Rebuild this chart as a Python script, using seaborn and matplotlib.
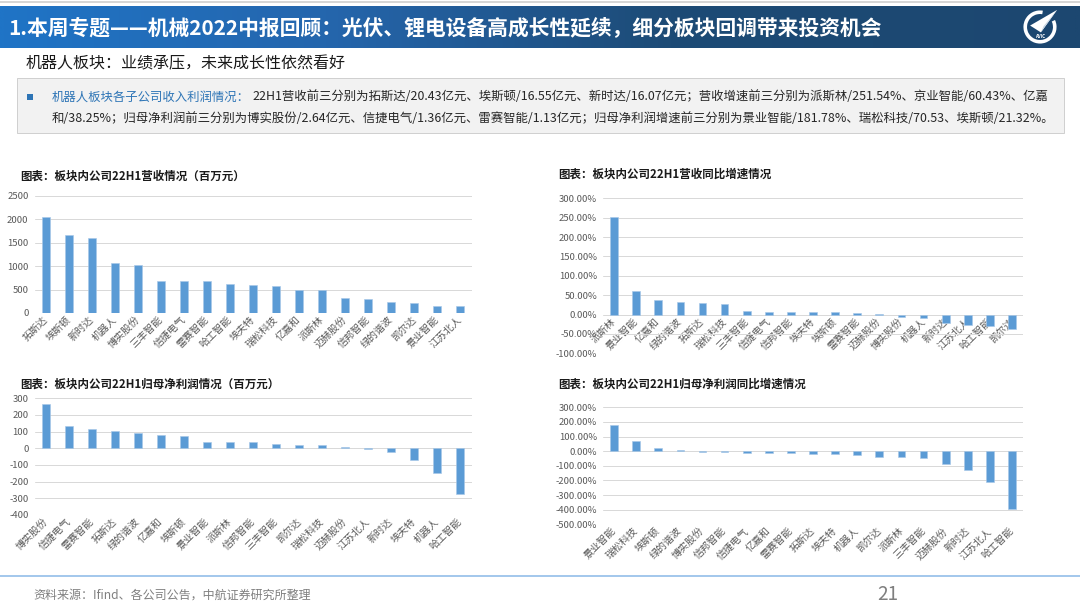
import matplotlib
matplotlib.use('Agg')
import matplotlib.pyplot as plt
import seaborn as sns
import numpy as np
from matplotlib.patches import Rectangle, Polygon, Wedge
from matplotlib.lines import Line2D
from matplotlib.colors import LinearSegmentedColormap

# ---------------- data ----------------
rev_names = ['拓斯达', '埃斯顿', '新时达', '机器人', '博实股份', '三丰智能', '信捷电气', '雷赛智能',
             '哈工智能', '埃夫特', '瑞松科技', '亿嘉和', '派斯林', '迈赫股份', '信邦智能', '绿的谐波',
             '凯尔达', '景业智能', '江苏北人']
rev_values = [2043, 1655, 1607, 1070, 1025, 680, 675, 672, 620, 605, 580, 485, 480, 325, 290, 240,
              205, 145, 145]

revg_names = ['派斯林', '景业智能', '亿嘉和', '绿的谐波', '拓斯达', '瑞松科技', '三丰智能', '信捷电气',
              '信邦智能', '埃夫特', '埃斯顿', '雷赛智能', '迈赫股份', '博实股份', '机器人', '新时达',
              '江苏北人', '哈工智能', '凯尔达']
revg_values = [251.54, 60.43, 38.25, 32.0, 31.0, 27.0, 10.0, 6.0, 6.0, 5.5, 5.5, 4.0, 0.3, -6.0,
               -10.0, -21.0, -26.0, -30.0, -38.0]

np_names = ['博实股份', '信捷电气', '雷赛智能', '拓斯达', '绿的谐波', '亿嘉和', '埃斯顿', '景业智能',
            '派斯林', '信邦智能', '三丰智能', '凯尔达', '瑞松科技', '迈赫股份', '江苏北人', '新时达',
            '埃夫特', '机器人', '哈工智能']
np_values = [264, 136, 113, 102, 92, 80, 76, 36, 35, 35, 26, 22, 18, 6, -5, -25, -70, -148, -277]

npg_names = ['景业智能', '瑞松科技', '埃斯顿', '绿的谐波', '博实股份', '信邦智能', '信捷电气', '亿嘉和',
             '雷赛智能', '拓斯达', '埃夫特', '机器人', '凯尔达', '派斯林', '三丰智能', '迈赫股份',
             '新时达', '江苏北人', '哈工智能']
npg_values = [181.78, 70.53, 21.32, 8.0, -3.0, -8.0, -10.0, -12.0, -13.0, -17.0, -22.0, -25.0,
              -38.0, -40.0, -50.0, -87.0, -130.0, -213.0, -398.0]

rev_ticks = [0, 500, 1000, 1500, 2000, 2500]
revg_ticks = [-100, -50, 0, 50, 100, 150, 200, 250, 300]
np_ticks = [-400, -300, -200, -100, 0, 100, 200, 300]
npg_ticks = [-500, -400, -300, -200, -100, 0, 100, 200, 300]

header_title = '1.本周专题——机械2022中报回顾：光伏、锂电设备高成长性延续，细分板块回调带来投资机会'
sub_title = '机器人板块：业绩承压，未来成长性依然看好'
bullet_head = '机器人板块各子公司收入利润情况：'
bullet_line1 = '22H1营收前三分别为拓斯达/20.43亿元、埃斯顿/16.55亿元、新时达/16.07亿元；营收增速前三分别为派斯林/251.54%、京业智能/60.43%、亿嘉'
bullet_line2 = '和/38.25%；归母净利润前三分别为博实股份/2.64亿元、信捷电气/1.36亿元、雷赛智能/1.13亿元；归母净利润增速前三分别为景业智能/181.78%、瑞松科技/70.53、埃斯顿/21.32%。'
chart_titles = ['图表：板块内公司22H1营收情况（百万元）', '图表：板块内公司22H1营收同比增速情况',
                '图表：板块内公司22H1归母净利润情况（百万元）', '图表：板块内公司22H1归母净利润同比增速情况']
source_text = '资料来源：Ifind、各公司公告，中航证券研究所整理'
page_no = '21'

# ---------------- style ----------------
sns.set_theme(style='white')
plt.rcParams['font.family'] = ['Noto Sans CJK SC', 'DejaVu Sans']
plt.rcParams['axes.unicode_minus'] = False

W, H, DPI = 1080, 609, 72
fig = plt.figure(figsize=(W / DPI, H / DPI), dpi=DPI)
fig.patch.set_facecolor('white')


def fx(x):
    return x / W


def fy(y):
    return 1 - y / H


BAR = '#5b9bd5'
TICK = '#595959'

# ---------------- header ----------------
fig.add_artist(Line2D([0, 1], [fy(1.5), fy(1.5)], transform=fig.transFigure, color='#c9c9c9', lw=1.5))
hax = fig.add_axes([0, fy(48), 1, 42 / H])
grad = np.linspace(0, 1, 600).reshape(1, -1)
cmap = LinearSegmentedColormap.from_list('hdr', [(0, '#1f74c6'), (0.3, '#2566ad'), (0.62, '#1d4b76'), (1, '#1c4770')])
hax.imshow(grad, aspect='auto', cmap=cmap, extent=[0, 1, 0, 1])
hax.set_axis_off()
fig.text(fx(8), fy(28), header_title, color='white', fontsize=20.8, fontweight='bold', va='center', ha='left')

# logo
lax = fig.add_axes([fx(1022), fy(45), 36 / W, 36 / H])
lax.set_xlim(-1, 1)
lax.set_ylim(-1, 1)
lax.set_aspect('equal')
lax.set_axis_off()
lax.add_patch(Wedge((0, 0), 0.92, 80, 385, width=0.2, facecolor='white', edgecolor='none'))
lax.add_patch(Polygon([(-0.55, 0.08), (0.95, 0.95), (0.05, -0.3)], closed=True, facecolor='white', edgecolor='none'))
lax.add_patch(Polygon([(0.05, -0.3), (0.95, 0.95), (0.2, 0.05)], closed=True, facecolor='#c9d6e3', edgecolor='none'))
lax.text(0, -0.5, 'AVIC', color='white', fontsize=4.5, fontweight='bold', ha='center', va='center')

# ---------------- subtitle + text box ----------------
fig.text(fx(26), fy(64), sub_title, color='#1a1a1a', fontsize=16, va='center', ha='left')
fig.add_artist(Rectangle((fx(17), fy(133)), (1064 - 17) / W, (133 - 78) / H, transform=fig.transFigure,
                         facecolor='#f2f2f2', edgecolor='#d0d0d0', lw=1))
fig.add_artist(Rectangle((fx(27), fy(100)), 6 / W, 6 / H, transform=fig.transFigure,
                         facecolor='#2e75b6', edgecolor='none'))
t_head = fig.text(fx(52), fy(97), bullet_head, color='#2e75b6', fontsize=12.4, va='center', ha='left')
fig.canvas.draw()
bb = t_head.get_window_extent(renderer=fig.canvas.get_renderer())
fig.text(bb.x1 / W + 2 / W, fy(97), bullet_line1, color='#262626', fontsize=12.4, va='center', ha='left')
fig.text(fx(52), fy(119), bullet_line2, color='#262626', fontsize=12.4, va='center', ha='left')

# ---------------- charts ----------------

def bar_chart(rect, names, values, ticks, fmt, zero_axis, title, title_xy):
    ax = fig.add_axes(rect)
    sns.barplot(x=names, y=values, color=BAR, saturation=1, width=0.35, errorbar=None, ax=ax,
                edgecolor='#a8c8e8', linewidth=0.6)
    ax.set_ylim(ticks[0], ticks[-1])
    ax.set_xlim(-0.5, len(names) - 0.5)
    ax.set_yticks(ticks)
    ax.set_yticklabels([fmt(v) for v in ticks])
    ax.yaxis.grid(True, color='#d9d9d9', lw=1)
    ax.xaxis.grid(False)
    ax.set_axisbelow(True)
    for s in ax.spines.values():
        s.set_visible(False)
    if zero_axis:
        ax.spines['bottom'].set_position(('data', 0))
    ax.tick_params(axis='both', length=0, colors=TICK)
    ax.tick_params(axis='y', labelsize=9.5, pad=6)
    ax.tick_params(axis='x', labelsize=10, pad=5)
    for lab in ax.get_xticklabels():
        lab.set_rotation(45)
        lab.set_ha('right')
        lab.set_va('center')
        lab.set_rotation_mode('anchor')
    ax.set_xlabel('')
    ax.set_ylabel('')
    ax.patch.set_alpha(0)
    fig.text(fx(title_xy[0]), fy(title_xy[1]), title, fontsize=11.5, fontweight='bold', color='#1a1a1a',
             va='center', ha='left')
    return ax


num_fmt = lambda v: f'{v:g}'
pct_fmt = lambda v: f'{v:.2f}%'

bar_chart([fx(34.5), fy(313), 437 / W, (313 - 195.7) / H], rev_names, rev_values, rev_ticks, num_fmt,
          False, chart_titles[0], (20, 176))
bar_chart([fx(603), fy(353.3), 420 / W, (353.3 - 198.3) / H], revg_names, revg_values, revg_ticks, pct_fmt,
          True, chart_titles[1], (558, 174))
bar_chart([fx(34.5), fy(515), 437 / W, (515 - 398.3) / H], np_names, np_values, np_ticks, num_fmt,
          False, chart_titles[2], (20, 384))
bar_chart([fx(603), fy(524.3), 420 / W, (524.3 - 407.3) / H], npg_names, npg_values, npg_ticks, pct_fmt,
          False, chart_titles[3], (558, 384))

# ---------------- footer ----------------
fig.add_artist(Line2D([0, 1], [fy(576), fy(576)], transform=fig.transFigure, color='#86b7e6', lw=1.5))
fig.text(fx(33), fy(595), source_text, color='#7f7f7f', fontsize=12, va='center', ha='left')
fig.text(fx(888), fy(594), page_no, color='#7f7f7f', fontsize=19, va='center', ha='center')

fig.savefig('out.png', dpi=DPI, facecolor='white')
